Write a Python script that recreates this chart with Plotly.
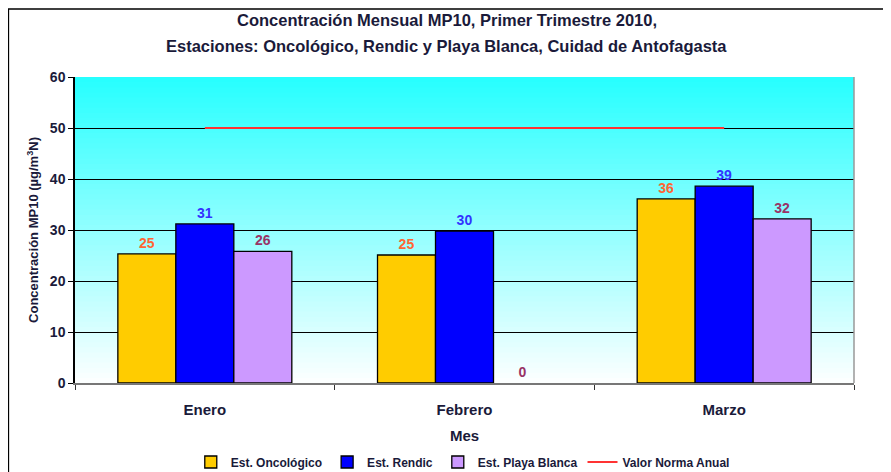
import plotly.graph_objects as go

meses = ["Enero", "Febrero", "Marzo"]
oncologico = [25.3, 25.1, 36.1]
rendic = [31.2, 29.8, 38.6]
playa_blanca = [25.8, 0, 32.2]
norma_anual = [50, 50, 50]

titulo_1 = "Concentración Mensual MP10, Primer Trimestre 2010,"
titulo_2 = "Estaciones: Oncológico, Rendic y Playa Blanca, Cuidad de Antofagasta"

font_family = "Liberation Sans Narrow, Arial Narrow, Liberation Sans, Arial, sans-serif"
text_dark = "#1a1a3a"

series = [
    ("Est. Oncológico", oncologico, "#FFCC00", "#FF6633"),
    ("Est. Rendic", rendic, "#0000FF", "#3333FF"),
    ("Est. Playa Blanca", playa_blanca, "#CC99FF", "#993366"),
]

fig = go.Figure()
for name, vals, color, text_color in series:
    fig.add_trace(go.Bar(
        x=meses, y=vals, name=name,
        marker=dict(color=color,
                    line=dict(color="black", width=[1.3 if v > 0 else 0 for v in vals])),
        text=[f"{round(v):d}" for v in vals],
        textposition="outside",
        cliponaxis=False,
        textfont=dict(family=font_family, size=14, color=text_color, weight="bold"),
    ))

fig.add_trace(go.Scatter(
    x=meses, y=norma_anual, name="Valor Norma Anual",
    mode="lines", line=dict(color="#FF3333", width=2),
))

# gradient background, white at bottom to cyan at top (overlapping bands, no seams)
shapes = []
n = 60
for i in range(n):
    t = i / (n - 1)
    r = int(252 - (252 - 40) * t)
    shapes.append(dict(
        type="rect", xref="x domain", yref="y domain",
        x0=0, x1=1, y0=i / n, y1=1,
        fillcolor=f"rgb({r},255,255)", line=dict(width=0), layer="below",
    ))
# right border of the plot area
shapes.append(dict(type="line", xref="x domain", yref="y domain",
                   x0=1, x1=1, y0=0, y1=1, line=dict(color="#999", width=1.5)))
# outer frame
shapes.append(dict(
    type="rect", xref="paper", yref="paper",
    x0=-0.0855, x1=1.1, y0=-0.4, y1=1.222,
    line=dict(color="black", width=1.5), fillcolor="rgba(0,0,0,0)",
))

annotations = [
    dict(text=titulo_1, xref="paper", yref="paper", x=0.4775, y=1.186,
         xanchor="center", yanchor="middle", showarrow=False,
         font=dict(size=16.5, color=text_dark, weight="bold")),
    dict(text=titulo_2, xref="paper", yref="paper", x=0.4775, y=1.101,
         xanchor="center", yanchor="middle", showarrow=False,
         font=dict(size=16.5, color=text_dark, weight="bold")),
]

fig.update_layout(
    width=883, height=464,
    margin=dict(l=67, r=37, t=69, b=89),
    paper_bgcolor="white",
    plot_bgcolor="white",
    barmode="group",
    bargap=0.33,
    bargroupgap=0,
    shapes=shapes,
    annotations=annotations,
    font=dict(family=font_family, color=text_dark),
    legend=dict(
        orientation="h",
        xref="container", yref="container",
        x=0.207, xanchor="left", y=0.0216, yanchor="middle",
        font=dict(size=12, color=text_dark, weight="bold"),
        traceorder="normal", itemwidth=30,
    ),
)

fig.update_xaxes(
    title=dict(text="Mes", font=dict(size=15, weight="bold"), standoff=14),
    tickfont=dict(size=15, weight="bold"),
    showline=True, linecolor="#777", linewidth=1.5,
    tickson="boundaries", ticks="outside", ticklen=5, tickcolor="#333",
    ticklabelstandoff=12,
    automargin=False,
)
fig.update_yaxes(
    title=dict(text="Concentración MP10 (µg/m<sup>3</sup>N)",
               font=dict(size=13, weight="bold"), standoff=8),
    range=[0, 60], dtick=10,
    tickfont=dict(size=14, weight="bold"),
    showgrid=True, gridcolor="black", gridwidth=1,
    showline=True, linecolor="black", linewidth=1.5,
    ticks="outside", ticklen=5, tickcolor="black",
    zeroline=False, automargin=False,
)

fig.write_html("out.html")
